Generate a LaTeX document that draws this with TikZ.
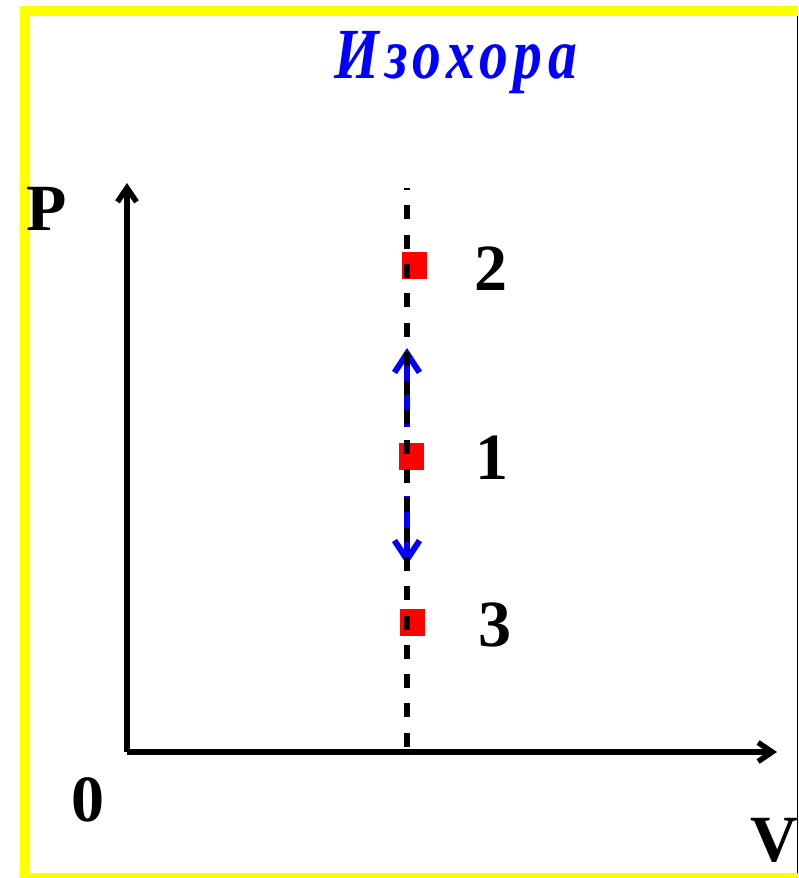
\documentclass[tikz,border=0pt]{standalone}
\usepackage{fontspec}
\setmainfont{Liberation Serif}
\newfontfamily\titlefont[FakeStretch=0.8, LetterSpace=8]{Liberation Serif}
\usetikzlibrary{arrows.meta}
\definecolor{frameyellow}{RGB}{255,255,0}
\definecolor{pointred}{RGB}{255,0,0}
\definecolor{shiftblue}{RGB}{0,0,255}

\begin{document}
\begin{tikzpicture}[x=1pt, y=-1pt,
  axis/.style={line width=5.5pt, -{Straight Barb[length=14pt, width=19pt]}},
  shiftarrow/.style={line width=6pt, shiftblue, -{Straight Barb[length=19pt, width=25pt]}},
  isoline/.style={line width=5.5pt, dash pattern=on 14pt off 15.3pt, dash phase=12pt},
  pointbox/.style={fill=pointred, minimum width=25pt, minimum height=27pt, inner sep=0pt},
  axlabel/.style={font=\fontsize{66}{66}\selectfont\bfseries, inner sep=0pt}]
  \useasboundingbox (0,0) rectangle (798,878);

  % Frame
  \fill[frameyellow] (20,6) rectangle (798,16);
  \fill[frameyellow] (20,6) rectangle (30,878);
  \fill[frameyellow] (20,873) rectangle (798,878);
  \draw[line width=1.5pt] (797.25,16) -- (797.25,873);

  % Title
  \node[anchor=base, shiftblue, inner sep=0pt,
    font=\fontsize{72}{72}\titlefont\bfseries\itshape] (title) at (456,78) {Изохора};

  % States
  \node[pointbox] (p2) at (414,265) {};
  \node[pointbox] (p1) at (411,456) {};
  \node[pointbox] (p3) at (412,622) {};

  % Shifts of the state
  \coordinate (up) at (407,348);
  \coordinate (down) at (407,565);
  \draw[shiftarrow, shorten <=15pt] (p1.north -| up) -- (up);
  \draw[shiftarrow, shorten <=26pt] (p1.south -| down) -- (down);

  % Isochore
  \coordinate (top) at (407,188);
  \coordinate (foot) at (407,752);
  \draw[isoline] (top) -- (foot);

  % Axes
  \coordinate (O) at (127,752);
  \coordinate (Ptip) at (127,183);
  \coordinate (Vtip) at (777,752);
  \draw[axis] (O) -- (Ptip);
  \draw[axis] (O) -- (Vtip);

  \node[axlabel] (P) at (47,209) {P};
  \node[axlabel] (zero) at (88,800) {0};
  \node[axlabel] (V) at (774,840) {V};
  \node[axlabel] (n2) at (491,269) {2};
  \node[axlabel] (n1) at (492,458) {1};
  \node[axlabel] (n3) at (495,625) {3};
\end{tikzpicture}
\end{document}
